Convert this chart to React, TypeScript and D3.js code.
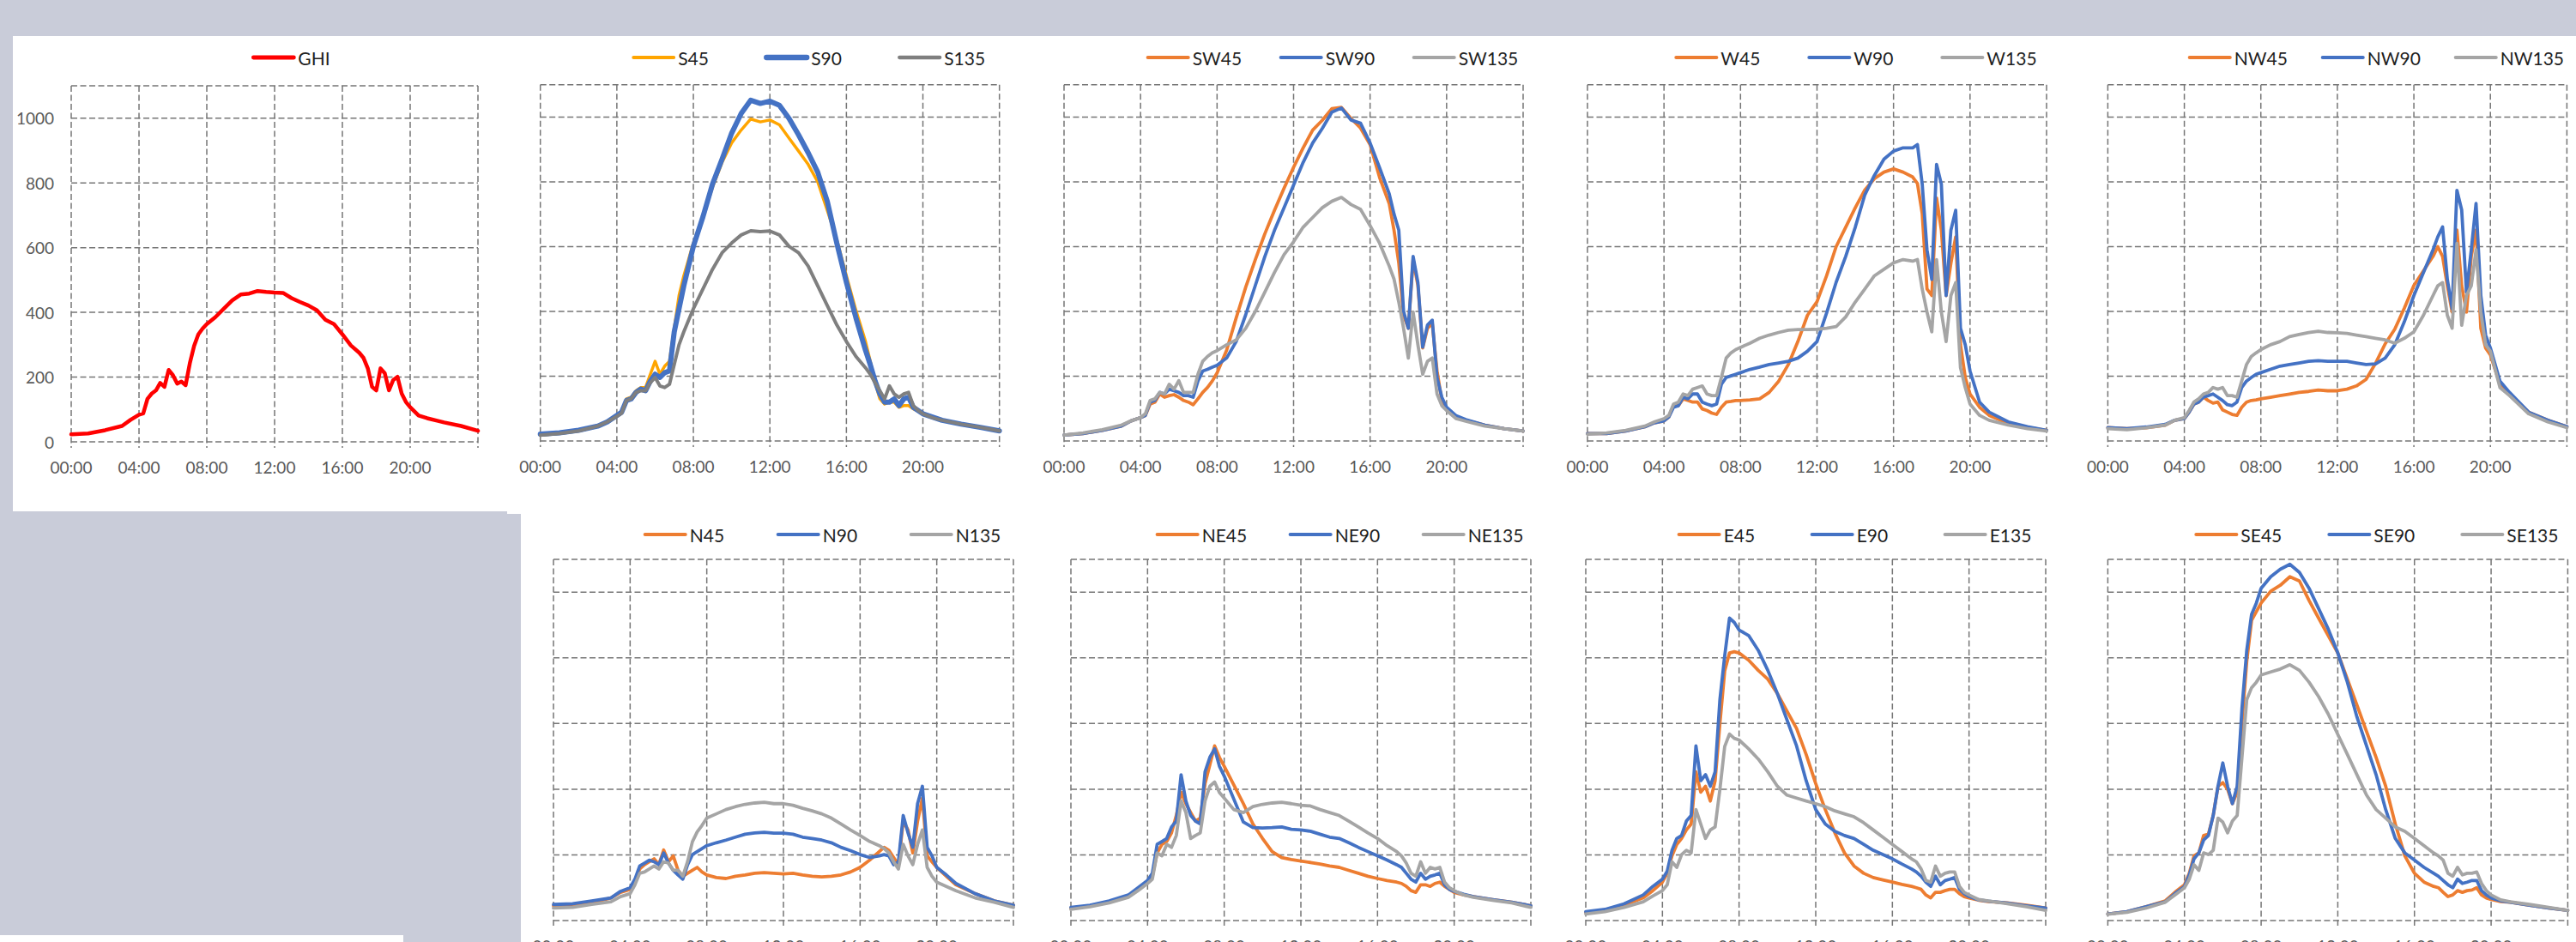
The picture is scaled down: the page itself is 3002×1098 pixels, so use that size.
import React from 'react'
import * as d3 from 'd3'

// time of day (hours) of every reading in the series below
const hours = [
  0, 1, 2, 3, 3.5,
  4, 4.25, 4.5, 4.75,
  5, 5.25, 5.5, 5.75,
  6, 6.25, 6.5, 6.75,
  7, 7.25, 7.5, 7.75,
  8, 8.5, 9, 9.5, 10, 10.5, 11, 11.5, 12, 12.5, 13, 13.5, 14, 14.5, 15, 15.5, 16, 16.5,
  17, 17.25, 17.5, 17.75,
  18, 18.25, 18.5, 18.75,
  19, 19.25, 19.5, 19.75,
  20, 20.5, 21, 22, 23, 24,
]

const tickHours = [0, 4, 8, 12, 16, 20, 24]
const tickLabels = ['00:00', '04:00', '08:00', '12:00', '16:00', '20:00']
const yTicks = [0, 200, 400, 600, 800, 1000]

// irradiance, W/m2
const ghi = [
  23, 26, 36, 49, 68,
  84, 88, 133, 149,
  159, 182, 170, 222,
  206, 180, 186, 175,
  243, 296, 332, 350,
  364, 385, 411, 437, 455, 458, 466, 463, 461, 460, 444, 432, 421, 406, 377, 364, 332, 298,
  275, 259, 227, 170,
  159, 227, 212, 159,
  191, 201, 149, 123,
  107, 81, 73, 60, 49, 34,
]

const s45 = [
  18, 23, 31, 44, 59,
  79, 89, 130, 135,
  155, 165, 165, 206,
  246, 206, 231, 246,
  348, 449, 510, 560,
  611, 692, 783, 860, 920, 960, 994, 985, 991, 976, 935, 895, 854, 800, 712, 621, 510, 403,
  307, 246, 180, 130,
  114, 120, 120, 104,
  109, 109, 99, 92,
  84, 74, 64, 52, 42, 31,
]
const s90 = [
  21, 25, 33, 46, 59,
  79, 89, 125, 130,
  150, 160, 155, 185,
  206, 196, 211, 216,
  337, 408, 479, 540,
  601, 692, 793, 870, 950, 1011, 1052, 1042, 1049, 1036, 996, 945, 890, 830, 740, 610, 490, 380,
  280, 235, 185, 145,
  120, 120, 130, 109,
  130, 135, 104, 94,
  84, 74, 64, 52, 42, 31,
]
const s135 = [
  18, 23, 31, 46, 59,
  76, 86, 125, 130,
  150, 155, 155, 180,
  196, 170, 165, 175,
  236, 297, 337, 373,
  408, 469, 530, 581, 611, 636, 649, 646, 648, 636, 601, 581, 540, 479, 418, 358, 307, 261,
  226, 206, 180, 155,
  130, 170, 145, 135,
  145, 150, 109, 94,
  84, 72, 64, 52, 42, 31,
]

const sw45 = [
  18, 23, 33, 46, 62,
  72, 79, 114, 120,
  145, 135, 140, 143,
  135, 125, 120, 112,
  130, 150, 165, 185,
  210, 280, 380, 475, 560, 640, 712, 780, 845, 905, 960, 990, 1026, 1030, 996, 966, 915, 813,
  733, 651, 550, 388,
  348, 560, 480, 287,
  348, 363, 216, 125,
  99, 74, 64, 49, 38, 31,
]
const sw90 = [
  18, 23, 33, 46, 62,
  72, 79, 120, 125,
  150, 145, 160, 155,
  150, 140, 140, 135,
  185, 216, 221, 228,
  234, 256, 307, 390, 480, 570, 650, 720, 790, 860, 920, 965, 1015, 1028, 991, 981, 920, 843,
  763, 701, 651, 400,
  348, 570, 489, 290,
  358, 373, 196, 135,
  104, 78, 66, 49, 38, 31,
]
const sw135 = [
  18, 25, 35, 49, 62,
  72, 84, 125, 130,
  150, 145, 175, 160,
  186, 150, 150, 150,
  206, 246, 261, 272,
  279, 297, 312, 348, 400, 460, 520, 575, 615, 660, 690, 720, 740, 752, 730, 715, 665, 610,
  540, 500, 429, 348,
  256, 398, 297, 206,
  246, 256, 145, 109,
  94, 69, 61, 46, 38, 31,
]

const w45 = [
  23, 23, 31, 44, 56,
  62, 74, 109, 109,
  130, 125, 120, 120,
  99, 94, 86, 82,
  104, 120, 122, 125,
  125, 127, 130, 150, 185, 236, 307, 388, 430, 510, 600, 660, 720, 775, 810, 830, 840, 830,
  815, 795, 702, 469,
  449, 750, 651, 449,
  549, 630, 297, 196,
  145, 104, 79, 54, 42, 33,
]
const w90 = [
  23, 23, 31, 44, 56,
  62, 74, 104, 109,
  135, 130, 145, 145,
  120, 114, 109, 114,
  175, 196, 201, 206,
  211, 221, 228, 236, 241, 246, 256, 277, 307, 395, 490, 570, 660, 760, 820, 870, 895, 905,
  905, 915, 793, 590,
  499, 854, 793, 449,
  651, 712, 348, 297,
  216, 120, 89, 59, 44, 33,
]
const w135 = [
  21, 25, 33, 46, 59,
  69, 79, 114, 120,
  145, 140, 160, 165,
  170, 145, 140, 140,
  196, 256, 272, 282,
  289, 302, 317, 327, 335, 342, 344, 344, 345, 348, 353, 383, 429, 469, 510, 530, 550, 560,
  555, 560, 469, 398,
  337, 560, 398, 307,
  449, 489, 226, 165,
  114, 79, 64, 49, 38, 31,
]

const nw45 = [
  41, 38, 41, 49, 64,
  69, 89, 114, 120,
  135, 125, 117, 120,
  96, 89, 82, 79,
  104, 120, 125, 127,
  130, 135, 140, 145, 150, 153, 157, 155, 155, 160, 170, 190, 240, 300, 345, 410, 480, 525,
  570, 600, 570, 479,
  398, 651, 479, 398,
  570, 651, 348, 287,
  266, 175, 145, 89, 64, 44,
]
const nw90 = [
  41, 38, 43, 51, 64,
  69, 89, 114, 120,
  135, 140, 145, 135,
  125, 112, 109, 120,
  165, 185, 196, 206,
  211, 221, 231, 236, 241, 246, 248, 246, 246, 246, 241, 236, 238, 256, 297, 368, 449, 520,
  590, 630, 661, 499,
  408, 774, 713, 459,
  590, 733, 449, 327,
  287, 185, 150, 89, 64, 44,
]
const nw135 = [
  38, 35, 41, 49, 64,
  72, 94, 120, 130,
  145, 150, 165, 160,
  165, 140, 140, 135,
  185, 236, 261, 272,
  282, 297, 307, 322, 329, 335, 339, 335, 334, 332, 327, 322, 317, 312, 302, 317, 337, 388,
  449, 479, 489, 388,
  348, 610, 357, 449,
  479, 590, 398, 297,
  277, 165, 140, 84, 59, 41,
]

const n45 = [
  45, 47, 54, 69, 86,
  95, 117, 157, 170,
  179, 188, 170, 215,
  179, 197, 153, 135,
  144, 153, 162, 148,
  139, 131, 128, 135, 139, 144, 146, 144, 142, 144, 139, 135, 133, 135, 139, 148, 162, 184,
  210, 223, 214, 192,
  170, 303, 276, 206,
  303, 373, 197, 179,
  162, 135, 109, 82, 60, 47,
]
const n90 = [
  49, 51, 60, 69, 89,
  100, 126, 166, 175,
  184, 179, 170, 206,
  175, 153, 139, 126,
  170, 201, 210, 219,
  228, 237, 245, 254, 263, 267, 269, 266, 266, 263, 254, 250, 245, 237, 223, 213, 201, 192,
  197, 201, 197, 170,
  179, 320, 267, 223,
  356, 409, 223, 197,
  162, 139, 113, 82, 60, 47,
]
const n135 = [
  38, 40, 49, 57, 73,
  82, 109, 144, 148,
  157, 166, 157, 179,
  175, 153, 153, 135,
  180, 240, 270, 290,
  312, 325, 338, 347, 354, 358, 360, 356, 356, 351, 342, 334, 325, 312, 294, 276, 259, 241,
  228, 219, 206, 179,
  157, 232, 197, 170,
  232, 276, 162, 135,
  117, 104, 91, 69, 56, 40,
]

const ne45 = [
  38, 45, 56, 75, 95,
  117, 135, 206, 232,
  241, 267, 320, 391,
  356, 329, 303, 312,
  417, 474, 532, 497,
  470, 413, 356, 294, 250, 210, 192, 186, 181, 177, 172, 166, 162, 153, 144, 135, 128, 122,
  117, 113, 104, 91,
  86, 109, 109, 104,
  113, 117, 104, 95,
  86, 78, 73, 64, 56, 45,
]
const ne90 = [
  40, 47, 60, 78, 100,
  122, 144, 232, 241,
  250, 285, 303, 444,
  364, 320, 303, 294,
  453, 497, 523, 470,
  440, 370, 300, 283, 282, 283, 285, 278, 276, 272, 263, 254, 250, 237, 223, 210, 197, 184,
  170, 162, 144, 126,
  117, 144, 126, 135,
  139, 144, 109, 95,
  89, 80, 73, 64, 56, 45,
]
const ne135 = [
  34, 42, 54, 71, 91,
  113, 126, 206, 197,
  232, 223, 259, 364,
  329, 250, 259, 267,
  364, 409, 422, 390,
  373, 338, 329, 347, 354, 358, 360, 356, 351, 349, 338, 329, 320, 303, 285, 267, 250, 228,
  210, 197, 175, 144,
  135, 179, 144, 162,
  157, 162, 117, 100,
  91, 78, 71, 62, 54, 40,
]

const e45 = [
  25, 31, 47, 69, 91,
  117, 144, 197, 232,
  250, 276, 294, 453,
  391, 409, 364, 426,
  600, 760, 815, 819,
  815, 793, 762, 735, 691, 638, 585, 506, 417, 338, 267, 206, 166, 144, 131, 124, 117, 110,
  104, 100, 95, 78,
  69, 86, 86, 91,
  95, 95, 82, 73,
  69, 62, 58, 54, 47, 38,
]
const e90 = [
  27, 34, 51, 78, 104,
  126, 150, 214, 250,
  259, 303, 320, 532,
  426, 444, 409, 453,
  673, 806, 921, 908,
  885, 868, 823, 762, 691, 611, 532, 426, 338, 294, 272, 259, 250, 232, 214, 201, 188, 172,
  157, 148, 135, 117,
  104, 135, 109, 122,
  126, 131, 95, 82,
  73, 63, 59, 53, 45, 38,
]
const e135 = [
  20, 27, 40, 57, 75,
  91, 109, 179, 162,
  201, 214, 206, 338,
  294, 250, 276, 285,
  400, 530, 568, 555,
  550, 523, 492, 453, 409, 382, 373, 364, 356, 347, 334, 325, 316, 298, 276, 254, 232, 210,
  188, 179, 157, 122,
  117, 166, 135, 144,
  148, 148, 104, 86,
  78, 64, 60, 51, 42, 31,
]

const se45 = [
  20, 27, 42, 60, 86,
  109, 144, 197, 206,
  259, 263, 320, 409,
  420, 400, 356, 391,
  603, 790, 914, 941,
  967, 1003, 1021, 1047, 1034, 975, 921, 868, 815, 735, 656, 576, 497, 409, 294, 197, 144, 117,
  104, 100, 86, 73,
  78, 91, 86, 91,
  93, 100, 78, 69,
  64, 58, 56, 47, 38, 31,
]
const se90 = [
  20, 27, 42, 57, 82,
  104, 139, 188, 206,
  245, 259, 320, 409,
  480, 409, 356, 409,
  647, 823, 932, 967,
  1012, 1047, 1070, 1085, 1060, 1012, 950, 888, 815, 726, 620, 532, 444, 338, 250, 206, 184, 162,
  144, 135, 122, 109,
  100, 126, 113, 117,
  122, 122, 91, 78,
  69, 60, 56, 47, 38, 31,
]
const se135 = [
  19, 25, 38, 56, 78,
  100, 126, 170, 153,
  206, 201, 214, 312,
  300, 267, 303, 320,
  497, 673, 709, 726,
  748, 757, 766, 779, 762, 726, 682, 629, 567, 506, 444, 382, 338, 312, 285, 272, 250, 228,
  206, 197, 184, 144,
  135, 162, 139, 144,
  144, 148, 113, 91,
  78, 63, 57, 49, 40, 31,
]

const FONT = 'Lato, "Open Sans", sans-serif'
const GRID = '#767676'
const ORANGE = '#ED7D31'
const BLUE = '#4472C4'
const GREY = '#A5A5A5'

type Series = { name: string; values: number[]; color: string; width: number }
type PanelDef = {
  id: string
  series: Series[]
  left: number
  top: number
  width: number
  height: number
  legendY: number
  legendShift: number
  showY?: boolean
}

const trio = (names: string[], vals: number[][]): Series[] =>
  names.map((name, i) => ({ name, values: vals[i], color: [ORANGE, BLUE, GREY][i], width: 3.8 }))

const top = (id: string, left: number, series: Series[]): PanelDef =>
  ({ id, series, left, top: 98.7, width: 535, height: 415.3, legendY: 67, legendShift: 46 })
const bottom = (id: string, left: number, series: Series[]): PanelDef =>
  ({ id, series, left, top: 652, width: 536, height: 421, legendY: 623, legendShift: 46 })

const panels: PanelDef[] = [
  {
    id: 'GHI', left: 83, top: 100, width: 474, height: 415, legendY: 67, legendShift: 20, showY: true,
    series: [{ name: 'GHI', values: ghi, color: '#FF0000', width: 4.5 }],
  },
  top('S', 629.7, [
    { name: 'S45', values: s45, color: '#FFA500', width: 3.5 },
    { name: 'S90', values: s90, color: BLUE, width: 6 },
    { name: 'S135', values: s135, color: '#7F7F7F', width: 4 },
  ]),
  top('SW', 1240, trio(['SW45', 'SW90', 'SW135'], [sw45, sw90, sw135])),
  top('W', 1850, trio(['W45', 'W90', 'W135'], [w45, w90, w135])),
  top('NW', 2456.4, trio(['NW45', 'NW90', 'NW135'], [nw45, nw90, nw135])),
  bottom('N', 645, trio(['N45', 'N90', 'N135'], [n45, n90, n135])),
  bottom('NE', 1248, trio(['NE45', 'NE90', 'NE135'], [ne45, ne90, ne135])),
  bottom('E', 1848, trio(['E45', 'E90', 'E135'], [e45, e90, e135])),
  bottom('SE', 2456.4, trio(['SE45', 'SE90', 'SE135'], [se45, se90, se135])),
]

let ctx: CanvasRenderingContext2D | null = null
const textWidth = (s: string, size: number) => {
  if (!ctx) ctx = document.createElement('canvas').getContext('2d')
  if (!ctx) return s.length * size * 0.55
  ctx.font = `${size}px ${FONT}`
  return ctx.measureText(s).width
}

const LEGEND_SIZE = 21
const LEGEND_STEP = 155
const SWATCH = 47

const Panel = ({ p }: { p: PanelDef }) => {
  const x = d3.scaleLinear().domain([0, 24]).range([p.left, p.left + p.width])
  const y = d3.scaleLinear().domain([0, 1100]).range([p.top + p.height, p.top])
  const line = d3.line<number>().x((_, i) => x(hours[i])).y(v => y(v))

  const n = p.series.length
  const last = p.series[n - 1].name
  const total = (n - 1) * LEGEND_STEP + SWATCH + 5 + textWidth(last, LEGEND_SIZE)
  const legendStart = (x(0) + x(24)) / 2 + p.legendShift - total / 2

  return (
    <g>
      {[...yTicks, 1100].map(v => (
        <line key={`h${v}`} x1={x(0)} x2={x(24)} y1={y(v)} y2={y(v)}
          stroke={GRID} strokeWidth={1.5} strokeDasharray="7 3.5" />
      ))}
      {tickHours.map(h => (
        <line key={`v${h}`} x1={x(h)} x2={x(h)} y1={y(1100)} y2={y(0) + 7}
          stroke={GRID} strokeWidth={1.5} strokeDasharray="7 3.5" />
      ))}

      {p.showY && yTicks.map(v => (
        <text key={`yl${v}`} x={x(0) - 20} y={y(v)} textAnchor="end" dominantBaseline="central"
          fontSize={19} fill="#595959">{v}</text>
      ))}
      {tickLabels.map((t, i) => (
        <text key={t} x={x(tickHours[i])} y={y(0) + 29} textAnchor="middle" dominantBaseline="central"
          fontSize={19} fill="#595959">{t}</text>
      ))}

      {p.series.map(s => (
        <path key={s.name} d={line(s.values) || ''} fill="none" stroke={s.color}
          strokeWidth={s.width} strokeLinejoin="round" strokeLinecap="round" />
      ))}

      {p.series.map((s, i) => {
        const lx = legendStart + i * LEGEND_STEP
        return (
          <g key={`lg${s.name}`}>
            <line x1={lx} x2={lx + SWATCH} y1={p.legendY} y2={p.legendY}
              stroke={s.color} strokeWidth={s.width + 0.3} strokeLinecap="round" />
            <text x={lx + SWATCH + 5} y={p.legendY} dominantBaseline="central"
              fontSize={LEGEND_SIZE} fill="#1f1f1f">{s.name}</text>
          </g>
        )
      })}
    </g>
  )
}

export default function App() {
  return (
    <svg width={3002} height={1098} fontFamily={FONT}
      style={{ position: 'absolute', left: 0, top: 0, display: 'block' }}>
      <rect width={3002} height={1098} fill="#C9CCD9" />
      <rect x={15} y={42} width={580} height={554} fill="#fff" />
      <rect x={591} y={42} width={2411} height={557} fill="#fff" />
      <rect x={607} y={596} width={2395} height={502} fill="#fff" />
      <rect x={0} y={1090} width={470} height={8} fill="#fff" />
      {panels.map(p => <Panel key={p.id} p={p} />)}
    </svg>
  )
}
